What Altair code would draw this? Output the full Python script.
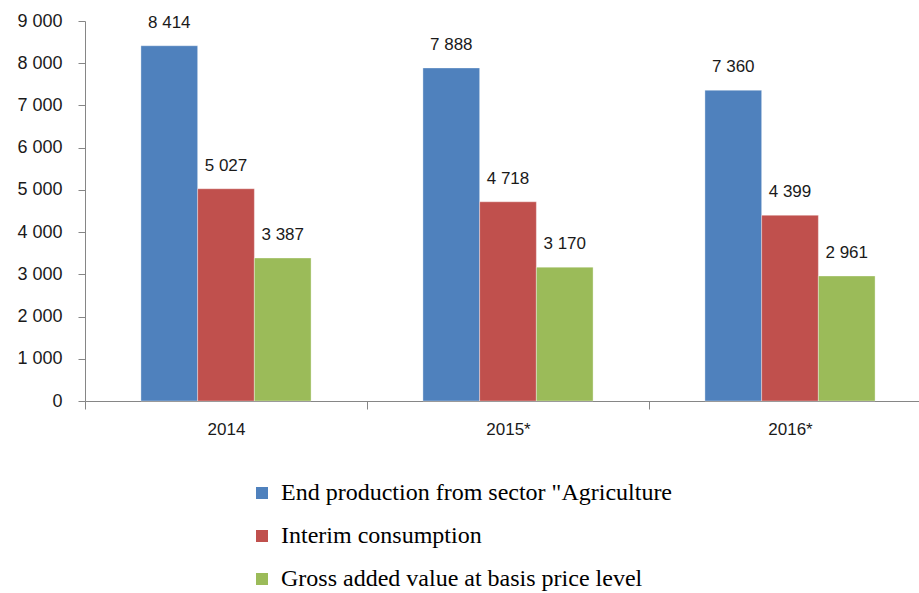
import altair as alt
import pandas as pd

# Agricultural accounts by year (values as published)
years = ["2014", "2015*", "2016*"]
series = [
    "End production from sector \"Agriculture",
    "Interim consumption",
    "Gross added value at basis price level",
]
end_production = [8414, 7888, 7360]
interim_consumption = [5027, 4718, 4399]
gross_added_value = [3387, 3170, 2961]
colors = ["#4F81BD", "#C0504D", "#9BBB59"]

rows = []
for i, y in enumerate(years):
    for s, vals in zip(series, [end_production, interim_consumption, gross_added_value]):
        rows.append({"year": y, "series": s, "value": vals[i]})
df = pd.DataFrame(rows)

axis_font = "Liberation Sans"
text_color = "#1a1a1a"
axis_gray = "#868686"

x_enc = alt.X(
    "year:N",
    sort=years,
    scale=alt.Scale(paddingInner=0, paddingOuter=0, range=[0, 846]),
    axis=alt.Axis(
        title=None,
        labelAngle=0,
        tickBand="extent",
        tickSize=8,
        tickColor=axis_gray,
        domainColor=axis_gray,
        labelFont=axis_font,
        labelFontSize=17,
        labelColor=text_color,
        labelPadding=12,
    ),
)
xoff_enc = alt.XOffset(
    "series:N",
    sort=series,
    scale=alt.Scale(paddingInner=0, paddingOuter=0.986),
)
y_enc = alt.Y(
    "value:Q",
    scale=alt.Scale(domain=[0, 9000], nice=False),
    axis=alt.Axis(
        title=None,
        values=list(range(0, 9001, 1000)),
        labelExpr="replace(format(datum.value, ','), ',', ' ')",
        grid=False,
        tickSize=7,
        tickColor=axis_gray,
        domainColor=axis_gray,
        labelFont=axis_font,
        labelFontSize=18,
        labelColor=text_color,
        labelPadding=16,
    ),
)

bars = alt.Chart(df).mark_bar(stroke="#ffffff", strokeOpacity=0.35, strokeWidth=1).encode(
    x=x_enc,
    xOffset=xoff_enc,
    y=y_enc,
    color=alt.Color(
        "series:N",
        sort=series,
        scale=alt.Scale(domain=series, range=colors),
        legend=alt.Legend(
            title=None,
            orient="none",
            legendX=165,
            legendY=460,
            direction="vertical",
            symbolType="square",
            symbolSize=144,
            symbolStrokeWidth=0,
            labelFont="Liberation Serif",
            labelFontSize=24,
            labelColor="#000000",
            labelOffset=7,
            rowPadding=19,
            labelLimit=700,
        ),
    ),
)

labels = alt.Chart(df).transform_calculate(
    label="replace(format(datum.value, ','), ',', ' ')"
).mark_text(
    dy=-23, font=axis_font, fontSize=17, color=text_color
).encode(
    x=alt.X("year:N", sort=years),
    xOffset=alt.XOffset("series:N", sort=series),
    y="value:Q",
    text="label:N",
)

chart = (
    alt.layer(bars, labels)
    .properties(
        width=834,
        height=380,
        autosize=alt.AutoSizeParams(type="none"),
        padding={"left": 85, "top": 21, "right": 0, "bottom": 192},
        background="#ffffff",
    )
    .configure_view(stroke=None)
)

chart.save("out.html", embed_options={"renderer": "svg", "actions": False})
